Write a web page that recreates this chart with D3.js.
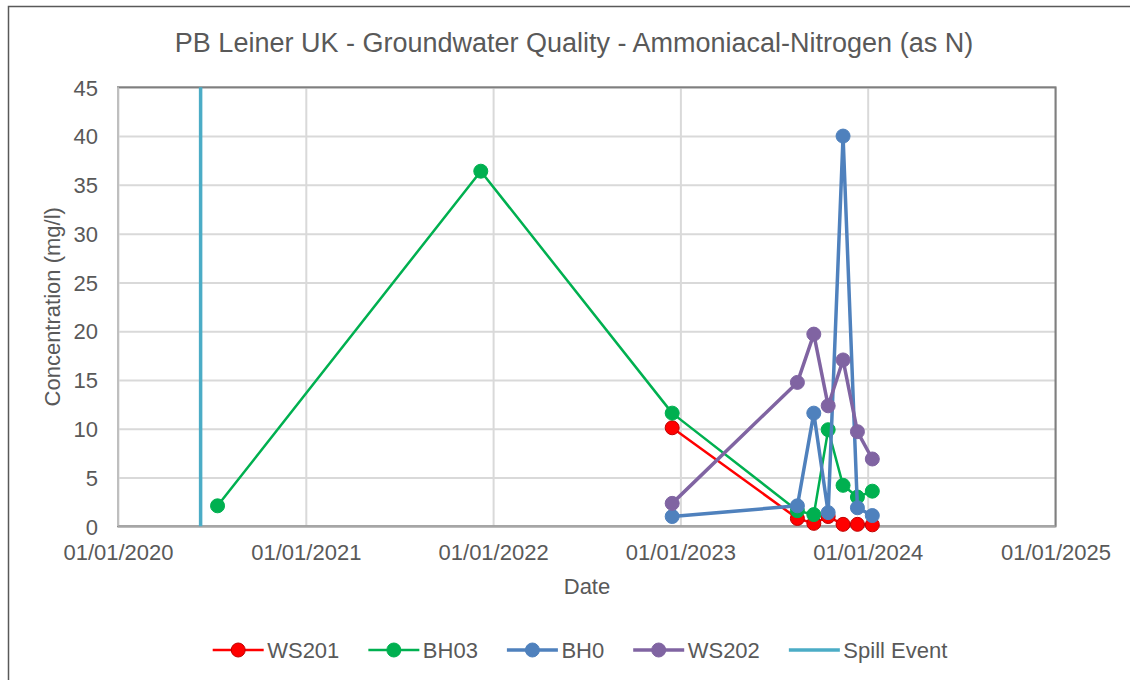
<!DOCTYPE html>
<html>
<head>
<meta charset="utf-8">
<script src="https://cdn.jsdelivr.net/npm/d3@7"></script>
<style>
  html, body { margin: 0; padding: 0; background: #fff; overflow: hidden; }
  svg { display: block; font-family: "Liberation Sans", Arial, sans-serif; }
</style>
</head>
<body>
<svg width="1130" height="680"></svg>
<script>
// sampling dates and values per series
const ws201Dates = ['2022-12-16', '2023-08-17', '2023-09-18', '2023-10-16', '2023-11-14', '2023-12-12', '2024-01-10'];
const ws201Values = [10.1, 0.8, 0.3, 1.0, 0.2, 0.2, 0.15];

const bh03Dates = ['2020-07-13', '2021-12-08', '2022-12-16', '2023-08-17', '2023-09-18', '2023-10-16', '2023-11-14', '2023-12-12', '2024-01-10'];
const bh03Values = [2.1, 36.4, 11.6, 1.6, 1.2, 9.9, 4.2, 3.0, 3.6];

const bh0Dates = ['2022-12-16', '2023-08-17', '2023-09-18', '2023-10-16', '2023-11-14', '2023-12-12', '2024-01-10'];
const bh0Values = [1.0, 2.1, 11.6, 1.4, 40.0, 1.9, 1.1];

const ws202Dates = ['2022-12-16', '2023-08-17', '2023-09-18', '2023-10-16', '2023-11-14', '2023-12-12', '2024-01-10'];
const ws202Values = [2.35, 14.75, 19.7, 12.35, 17.05, 9.7, 6.9];

const spillDate = '2020-06-10';
const spillValues = [0, 45];

const seriesNames = ['WS201', 'BH03', 'BH0', 'WS202', 'Spill Event'];
const seriesColors = ['#ff0000', '#00b050', '#4f81bd', '#8064a2', '#4bacc6'];

const xTickDates = ['2020-01-01', '2021-01-01', '2022-01-01', '2023-01-01', '2024-01-01', '2025-01-01'];
const yTicks = [0, 5, 10, 15, 20, 25, 30, 35, 40, 45];

const TITLE = 'PB Leiner UK - Groundwater Quality - Ammoniacal-Nitrogen (as N)';
const X_TITLE = 'Date', Y_TITLE = 'Concentration (mg/l)';

const LEFT = 118, RIGHT = 1055.5, TOP = 87.3, BOTTOM = 526.3;
const TEXT = '#595959', GRID = '#d9d9d9';
const FONT = 22;

const parse = d3.utcParse('%Y-%m-%d');

const x = d3.scaleUtc()
    .domain([parse(xTickDates[0]), parse(xTickDates[xTickDates.length - 1])])
    .range([LEFT, RIGHT]);
const y = d3.scaleLinear().domain([0, 45]).range([BOTTOM, TOP]);

const svg = d3.select('svg');

// outer chart border (runs off the right and bottom edges)
svg.append('path')
    .attr('d', 'M8.5,700V6.5H1140')
    .attr('fill', 'none')
    .attr('stroke', '#595959')
    .attr('stroke-width', 1.5);

// title
svg.append('text')
    .attr('x', 574).attr('y', 52)
    .attr('text-anchor', 'middle')
    .attr('font-size', 27)
    .attr('fill', TEXT)
    .text(TITLE);

// grid
svg.append('g')
    .attr('transform', `translate(0,${BOTTOM})`)
    .call(d3.axisBottom(x).tickValues(xTickDates.map(parse)).tickSize(-(BOTTOM - TOP)).tickFormat(''))
    .call(g => g.select('.domain').remove())
    .call(g => g.selectAll('line').attr('stroke', GRID).attr('stroke-width', 2));

svg.append('g')
    .attr('transform', `translate(${LEFT},0)`)
    .call(d3.axisLeft(y).tickValues(yTicks).tickSize(-(RIGHT - LEFT)).tickFormat(''))
    .call(g => g.select('.domain').remove())
    .call(g => g.selectAll('line').attr('stroke', GRID).attr('stroke-width', 2));

// plot border
svg.append('rect')
    .attr('x', LEFT).attr('y', TOP)
    .attr('width', RIGHT - LEFT).attr('height', BOTTOM - TOP)
    .attr('fill', 'none')
    .attr('stroke', '#7f7f7f')
    .attr('stroke-width', 2);
svg.append('line')
    .attr('x1', LEFT).attr('x2', LEFT)
    .attr('y1', TOP).attr('y2', BOTTOM)
    .attr('stroke', '#bfbfbf').attr('stroke-width', 2);
svg.append('line')
    .attr('x1', LEFT).attr('x2', RIGHT)
    .attr('y1', BOTTOM).attr('y2', BOTTOM)
    .attr('stroke', '#a6a6a6').attr('stroke-width', 2);

// tick labels
const fmt = d3.utcFormat('%d/%m/%Y');
svg.append('g')
    .attr('transform', `translate(0,${BOTTOM})`)
    .call(d3.axisBottom(x).tickValues(xTickDates.map(parse)).tickSize(0).tickPadding(0).tickFormat(fmt))
    .call(g => g.select('.domain').remove())
    .call(g => g.selectAll('text')
        .attr('y', 34).attr('dy', null)
        .attr('font-size', FONT).attr('font-family', null).attr('fill', TEXT));

svg.append('g')
    .attr('transform', `translate(${LEFT},0)`)
    .call(d3.axisLeft(y).tickValues(yTicks).tickSize(0).tickPadding(20))
    .call(g => g.select('.domain').remove())
    .call(g => g.selectAll('text')
        .attr('dy', '0.35em')
        .attr('font-size', FONT).attr('font-family', null).attr('fill', TEXT));

// axis titles
svg.append('text')
    .attr('x', 587).attr('y', 594)
    .attr('text-anchor', 'middle')
    .attr('font-size', FONT).attr('fill', TEXT)
    .text(X_TITLE);

svg.append('text')
    .attr('transform', `translate(60,${(TOP + BOTTOM) / 2}) rotate(-90)`)
    .attr('text-anchor', 'middle')
    .attr('font-size', FONT).attr('fill', TEXT)
    .text(Y_TITLE);

// series
const series = [
    {dates: ws201Dates, values: ws201Values, width: 2.5},
    {dates: bh03Dates, values: bh03Values, width: 2.5},
    {dates: bh0Dates, values: bh0Values, width: 3.5},
    {dates: ws202Dates, values: ws202Values, width: 3.5},
];

const line = d3.line().x(d => x(d[0])).y(d => y(d[1]));

series.forEach(function (s, i) {
    const pts = s.dates.map((d, j) => [parse(d), s.values[j]]);
    const g = svg.append('g');
    g.append('path')
        .attr('d', line(pts))
        .attr('fill', 'none')
        .attr('stroke', seriesColors[i])
        .attr('stroke-width', s.width)
        .attr('stroke-linejoin', 'round');
    g.selectAll('circle')
        .data(pts)
        .join('circle')
        .attr('cx', d => x(d[0]))
        .attr('cy', d => y(d[1]))
        .attr('r', 7)
        .attr('fill', seriesColors[i])
        .attr('stroke', i === 0 ? '#c00000' : seriesColors[i])
        .attr('stroke-width', 1);
});

// spill event
svg.append('path')
    .attr('d', line(spillValues.map(v => [parse(spillDate), v])))
    .attr('stroke', seriesColors[4])
    .attr('stroke-width', 3.5);

// legend
const legend = svg.append('g');
let lx = 0;
seriesNames.forEach(function (name, i) {
    const item = legend.append('g').attr('transform', `translate(${lx},0)`);
    item.append('line')
        .attr('x1', 0).attr('x2', 51)
        .attr('stroke', seriesColors[i])
        .attr('stroke-width', i >= 2 ? 3.5 : 2.5);
    if (i < 4) {
        item.append('circle')
            .attr('cx', 25.5).attr('r', 7)
            .attr('fill', seriesColors[i])
            .attr('stroke', i === 0 ? '#c00000' : seriesColors[i]);
    }
    const t = item.append('text')
        .attr('x', 54.5).attr('dy', '0.35em')
        .attr('font-size', FONT).attr('fill', TEXT)
        .text(name);
    lx += 54.5 + t.node().getComputedTextLength() + 29;
});
lx -= 29;
legend.attr('transform', `translate(${580 - lx / 2},650)`);
</script>
</body>
</html>
